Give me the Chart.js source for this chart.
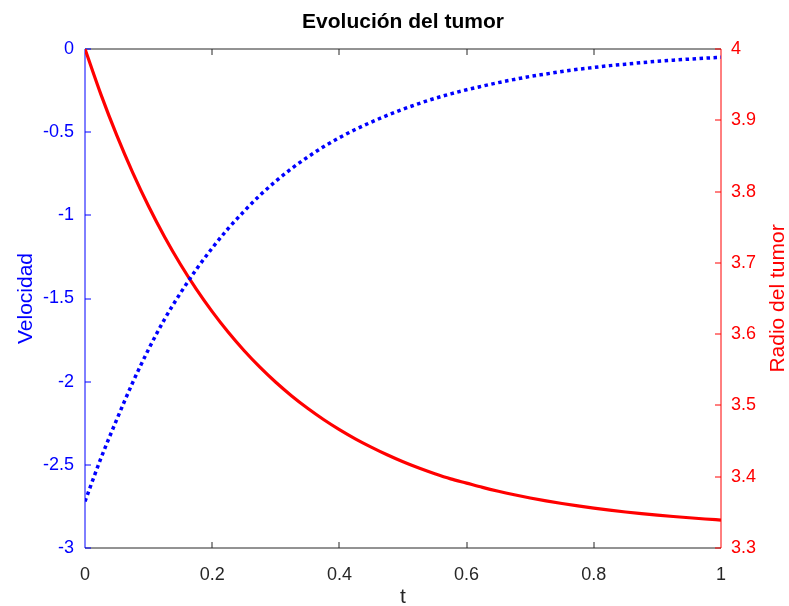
<!DOCTYPE html>
<html>
<head>
<meta charset="utf-8">
<script src="https://cdn.jsdelivr.net/npm/chart.js@4/dist/chart.umd.min.js"></script>
<style>
  html, body { margin: 0; padding: 0; background: #ffffff; }
  #wrap { width: 789px; height: 606px; }
</style>
</head>
<body>
<div id="wrap"><canvas id="c" width="789" height="606"></canvas></div>
<script>
// ---- data ----
const tValues = [0, 0.025, 0.05, 0.075, 0.1, 0.125, 0.15, 0.175, 0.2, 0.225, 0.25,
                 0.275, 0.3, 0.325, 0.35, 0.375, 0.4, 0.425, 0.45, 0.475, 0.5,
                 0.525, 0.55, 0.575, 0.6, 0.625, 0.65, 0.675, 0.7, 0.725, 0.75,
                 0.775, 0.8, 0.825, 0.85, 0.875, 0.9, 0.925, 0.95, 0.975, 1.0];
const velocidad = [-2.720, -2.461, -2.227, -2.005, -1.805, -1.625, -1.468, -1.325, -1.197, -1.080, -0.976,
                   -0.880, -0.795, -0.718, -0.650, -0.588, -0.533, -0.484, -0.440, -0.399, -0.362,
                   -0.328, -0.297, -0.270, -0.245, -0.223, -0.202, -0.183, -0.165, -0.150, -0.135,
                   -0.122, -0.111, -0.100, -0.091, -0.082, -0.074, -0.067, -0.061, -0.055, -0.050];
const radio = [4.0000, 3.9363, 3.8787, 3.8266, 3.7794, 3.7367, 3.6981, 3.6632, 3.6316, 3.6030, 3.5771,
               3.5537, 3.5325, 3.5133, 3.4960, 3.4803, 3.4661, 3.4532, 3.4416, 3.4308, 3.4210,
               3.4122, 3.4042, 3.3970, 3.3910, 3.3850, 3.3796, 3.3747, 3.3702, 3.3661, 3.3624,
               3.3590, 3.3559, 3.3531, 3.3505, 3.3482, 3.3461, 3.3442, 3.3424, 3.3407, 3.3392];

const xTicks = [0, 0.2, 0.4, 0.6, 0.8, 1];
const xTickLabels = ['0', '0.2', '0.4', '0.6', '0.8', '1'];
const yLeftTicks = [-3, -2.5, -2, -1.5, -1, -0.5, 0];
const yLeftTickLabels = ['-3', '-2.5', '-2', '-1.5', '-1', '-0.5', '0'];
const yRightTicks = [3.3, 3.4, 3.5, 3.6, 3.7, 3.8, 3.9, 4];
const yRightTickLabels = ['3.3', '3.4', '3.5', '3.6', '3.7', '3.8', '3.9', '4'];

const titleText = 'Evolución del tumor';
const xTitle = 't';
const yLeftTitle = 'Velocidad';
const yRightTitle = 'Radio del tumor';

const FONT = "'Liberation Sans', Arial, Helvetica, sans-serif";
const DARK = '#262626';
const BLUE = '#0000ff';
const RED = '#ff0000';

function labelFrom(ticksArr, labelsArr) {
  return function (value) {
    const i = ticksArr.findIndex(v => Math.abs(v - value) < 1e-9);
    return i >= 0 ? labelsArr[i] : '';
  };
}
function setTicks(ticksArr) {
  return function (scale) { scale.ticks = ticksArr.map(v => ({ value: v })); };
}

const octaveAxes = {
  id: 'octaveAxes',
  beforeDatasetsDraw(chart) {
    const { ctx, chartArea: a, scales } = chart;
    const L = Math.round(a.left), R = Math.round(a.right), T = Math.round(a.top), B = Math.round(a.bottom);
    const tl = 6;
    ctx.save();
    ctx.lineWidth = 1;
    ctx.strokeStyle = DARK;
    ctx.beginPath();
    ctx.moveTo(L, T); ctx.lineTo(R, T);
    ctx.moveTo(L, B); ctx.lineTo(R, B);
    xTicks.forEach(v => {
      const x = Math.round(scales.x.getPixelForValue(v));
      if (v === xTicks[0] || v === xTicks[xTicks.length - 1]) return;
      ctx.moveTo(x, T); ctx.lineTo(x, T + tl);
      ctx.moveTo(x, B); ctx.lineTo(x, B - tl);
    });
    ctx.stroke();
    ctx.strokeStyle = BLUE;
    ctx.beginPath();
    ctx.moveTo(L, T); ctx.lineTo(L, B);
    yLeftTicks.forEach(v => {
      const y = Math.round(scales.y.getPixelForValue(v));
      ctx.moveTo(L, y); ctx.lineTo(L + tl, y);
    });
    ctx.stroke();
    ctx.strokeStyle = RED;
    ctx.beginPath();
    ctx.moveTo(R, T); ctx.lineTo(R, B);
    yRightTicks.forEach(v => {
      const y = Math.round(scales.y2.getPixelForValue(v));
      ctx.moveTo(R, y); ctx.lineTo(R - tl, y);
    });
    ctx.stroke();
    ctx.restore();
  },
  afterDraw(chart) {
    const { ctx, chartArea: a } = chart;
    const cx = (a.left + a.right) / 2;
    const cy = (a.top + a.bottom) / 2;
    ctx.save();
    ctx.textAlign = 'center';
    ctx.textBaseline = 'alphabetic';
    ctx.fillStyle = '#000000';
    ctx.font = 'bold 21px ' + FONT;
    ctx.fillText(titleText, cx, 28);
    ctx.fillStyle = DARK;
    ctx.font = '21px ' + FONT;
    ctx.fillText(xTitle, cx, 603);
    ctx.save();
    ctx.fillStyle = BLUE;
    ctx.translate(31.5, cy);
    ctx.rotate(-Math.PI / 2);
    ctx.fillText(yLeftTitle, 0, 0);
    ctx.restore();
    ctx.save();
    ctx.fillStyle = RED;
    ctx.translate(784, cy);
    ctx.rotate(-Math.PI / 2);
    ctx.fillText(yRightTitle, 0, 0);
    ctx.restore();
    ctx.restore();
  }
};

new Chart(document.getElementById('c'), {
  type: 'line',
  data: {
    datasets: [
      {
        label: yLeftTitle,
        data: tValues.map((t, i) => ({ x: t, y: velocidad[i] })),
        yAxisID: 'y',
        borderColor: BLUE,
        borderWidth: 3.5,
        borderDash: [3.5, 3.5],
        borderCapStyle: 'butt',
        pointRadius: 0,
        fill: false,
        cubicInterpolationMode: 'monotone'
      },
      {
        label: yRightTitle,
        data: tValues.map((t, i) => ({ x: t, y: radio[i] })),
        yAxisID: 'y2',
        borderColor: RED,
        borderWidth: 3.2,
        pointRadius: 0,
        fill: false,
        cubicInterpolationMode: 'monotone'
      }
    ]
  },
  options: {
    responsive: false,
    animation: false,
    devicePixelRatio: 1,
    layout: { padding: { top: 49, left: 0, right: 0, bottom: 0 } },
    plugins: {
      legend: { display: false },
      title: { display: false },
      tooltip: { enabled: false }
    },
    scales: {
      x: {
        type: 'linear',
        position: 'bottom',
        min: 0, max: 1,
        grid: { display: false, drawTicks: false },
        border: { display: false },
        afterBuildTicks: setTicks(xTicks),
        afterFit(scale) { scale.height = 58; },
        ticks: {
          autoSkip: false,
          maxRotation: 0,
          padding: 16,
          color: DARK,
          font: { family: FONT, size: 18 },
          callback: labelFrom(xTicks, xTickLabels)
        }
      },
      y: {
        type: 'linear',
        position: 'left',
        min: -3, max: 0,
        grid: { display: false, drawTicks: false },
        border: { display: false },
        afterBuildTicks: setTicks(yLeftTicks),
        afterFit(scale) { scale.width = 85; },
        ticks: {
          autoSkip: false,
          padding: 11,
          color: BLUE,
          font: { family: FONT, size: 18 },
          callback: labelFrom(yLeftTicks, yLeftTickLabels)
        }
      },
      y2: {
        type: 'linear',
        position: 'right',
        min: 3.3, max: 4,
        grid: { display: false, drawTicks: false },
        border: { display: false },
        afterBuildTicks: setTicks(yRightTicks),
        afterFit(scale) { scale.width = 68; },
        ticks: {
          autoSkip: false,
          padding: 10,
          color: RED,
          font: { family: FONT, size: 18 },
          callback: labelFrom(yRightTicks, yRightTickLabels)
        }
      }
    }
  },
  plugins: [octaveAxes]
});
</script>
</body>
</html>
